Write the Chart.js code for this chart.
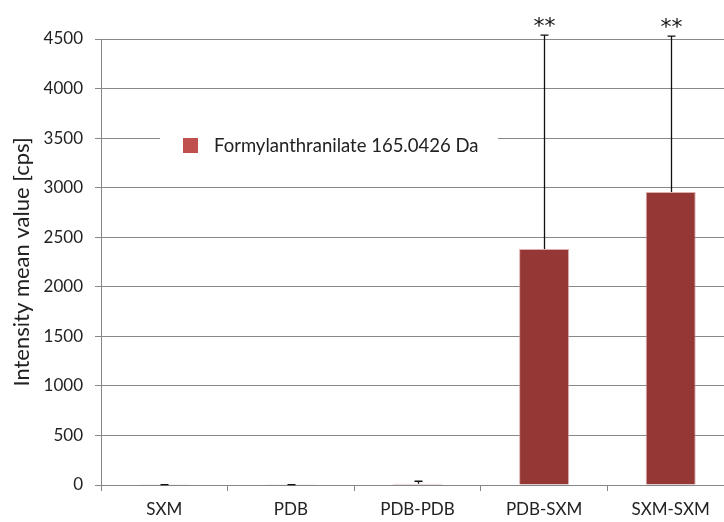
<!DOCTYPE html>
<html>
<head>
<meta charset="utf-8">
<script src="https://cdn.jsdelivr.net/npm/chart.js@4.4.1/dist/chart.umd.min.js"></script>
<style>
  html, body { margin: 0; padding: 0; background: #fff; overflow: hidden; }
  #wrap { width: 724px; height: 522px; overflow: hidden; }
</style>
</head>
<body>
<div id="wrap"><canvas id="chart" width="736" height="522"></canvas></div>
<script>
const categories = ["SXM", "PDB", "PDB-PDB", "PDB-SXM", "SXM-SXM"];
const meanValues = [2, 2, 12, 2381, 2956];
const errorUp = [2, 2, 26, 2159, 1574];
const marks = ["", "", "", "**", "**"];
const yTicks = [0, 500, 1000, 1500, 2000, 2500, 3000, 3500, 4000, 4500];
const seriesName = "Formylanthranilate 165.0426 Da";

const FONT = "Lato, 'Open Sans', sans-serif";

// vertical error whiskers (upper only) and significance stars
const errorBars = {
  id: "errorBars",
  afterDatasetsDraw(chart) {
    const ctx = chart.ctx;
    const y = chart.scales.y;
    const meta = chart.getDatasetMeta(0);
    ctx.save();
    ctx.strokeStyle = "#111";
    ctx.lineWidth = 1.3;
    meta.data.forEach((bar, i) => {
      const top = y.getPixelForValue(meanValues[i] + errorUp[i]);
      const x = Math.round(bar.x) + 0.5;
      ctx.beginPath();
      ctx.moveTo(x, bar.y);
      ctx.lineTo(x, top);
      ctx.moveTo(x - 4, top);
      ctx.lineTo(x + 4, top);
      ctx.stroke();
      if (marks[i]) {
        ctx.fillStyle = "#111";
        ctx.font = "22px 'DejaVu Sans', sans-serif";
        ctx.textAlign = "center";
        ctx.textBaseline = "alphabetic";
        ctx.fillText(marks[i], x, top - 2);
      }
    });
    ctx.restore();
  }
};

// legend box floating inside the plot
const innerLegend = {
  id: "innerLegend",
  afterDraw(chart) {
    const ctx = chart.ctx;
    const a = chart.chartArea;
    const left = a.left + 59;
    const cy = a.top + 106;
    ctx.save();
    ctx.fillStyle = "#fff";
    ctx.fillRect(left, cy - 18, 338, 36);
    ctx.fillStyle = "#C0504D";
    ctx.fillRect(left + 23, cy - 7, 15, 15);
    ctx.fillStyle = "#222";
    ctx.font = "18.5px " + FONT;
    ctx.textAlign = "left";
    ctx.textBaseline = "middle";
    ctx.fillText(seriesName, left + 54, cy + 1);
    ctx.restore();
  }
};

new Chart(document.getElementById("chart"), {
  type: "bar",
  data: {
    labels: categories,
    datasets: [{
      label: seriesName,
      data: meanValues,
      backgroundColor: "#953735",
      borderColor: "rgba(205,140,140,0.7)",
      borderWidth: 1,
      categoryPercentage: 1,
      barPercentage: 0.395
    }]
  },
  options: {
    responsive: false,
    animation: false,
    layout: { padding: { left: 0, top: 39, right: 2, bottom: 0 } },
    plugins: {
      legend: { display: false },
      tooltip: { enabled: false }
    },
    scales: {
      x: {
        grid: { offset: true, drawOnChartArea: false, color: "#868686", tickLength: 6 },
        border: { color: "#868686" },
        ticks: { color: "#222", font: { family: FONT, size: 17 }, padding: 8 },
        afterFit(s) { s.height = 37; }
      },
      y: {
        min: 0,
        max: 4500,
        afterBuildTicks(s) { s.ticks = yTicks.map(v => ({ value: v })); },
        grid: { color: "#888", tickLength: 6 },
        border: { color: "#868686" },
        ticks: {
          color: "#222",
          font: { family: FONT, size: 17 },
          padding: 12,
          callback: v => String(v)
        },
        title: {
          display: true,
          text: "Intensity mean value [cps]",
          color: "#222",
          font: { family: FONT, size: 22 },
          padding: { top: 9, bottom: 0 }
        },
        afterFit(s) { s.width = 101; }
      }
    }
  },
  plugins: [errorBars, innerLegend]
});
</script>
</body>
</html>
